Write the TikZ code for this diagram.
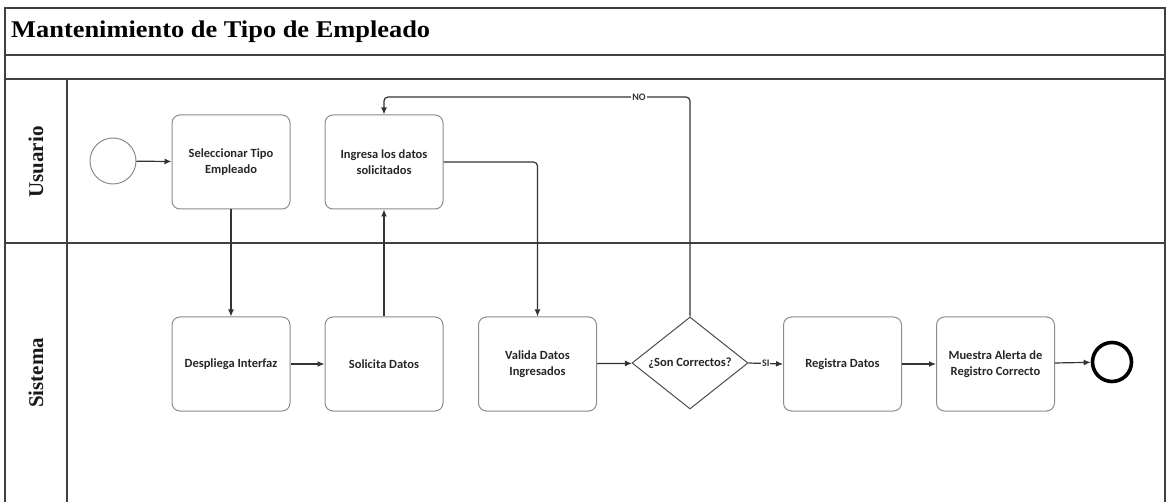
\documentclass[tikz,border=0pt]{standalone}
\usepackage{fontspec}
\setmainfont{Liberation Serif}
\newfontfamily\titlefont[FakeStretch=1.1]{Liberation Serif}
\newfontfamily\boxfont{Carlito}
\usetikzlibrary{shapes.geometric,arrows.meta}

\begin{document}
\begin{tikzpicture}[x=1pt,y=-1pt,
  frame/.style={draw=black!75, line width=1.5pt},
  task/.style={draw=black!45, line width=1pt, rounded corners=8pt,
    minimum width=118pt, minimum height=94pt, align=center, inner sep=2pt,
    text=black!85, font=\boxfont\bfseries\fontsize{12.5}{15.5}\selectfont},
  gate/.style={diamond, draw=black!70, line width=1pt, aspect=1.26,
    minimum width=116pt, minimum height=92pt, inner sep=0pt,
    text=black!85, font=\boxfont\bfseries\fontsize{12.5}{15.5}\selectfont},
  startev/.style={circle, draw=black!45, line width=1pt, minimum size=46pt, inner sep=0pt},
  endev/.style={circle, draw=black, line width=3.6pt, minimum size=39pt, inner sep=0pt},
  flow/.style={draw=black!80, line width=1.2pt, -{Latex[length=7pt,width=6pt]}},
  lbl/.style={fill=white, inner sep=1pt, text=black!80,
    font=\boxfont\bfseries\fontsize{10}{11}\selectfont},
  lane/.style={rotate=90, font=\bfseries\fontsize{21}{21}\selectfont, text=black!90}
]
\useasboundingbox (0,0) rectangle (1167,502);

% pool frame, title bar and lanes
\draw[frame] (5,502) -- (5,8) -- (1165,8) -- (1165,502);
\draw[frame] (5,55) -- (1165,55);
\draw[frame] (5,79) -- (1165,79);
\draw[frame] (5,243) -- (1165,243);
\draw[frame] (67,79) -- (67,502);

\node[anchor=west, inner sep=0pt, text=black,
  font=\titlefont\bfseries\fontsize{24}{24}\selectfont] (title) at (11,31.5)
  {Mantenimiento de Tipo de Empleado};

\node[lane] (usuario) at (36,162) {Usuario};
\node[lane] (sistema) at (36,373) {Sistema};

% events, tasks and gateway
\node[startev] (start) at (113,161) {};
\node[task] (sel) at (231,162) {Seleccionar Tipo\\Empleado};
\node[task] (ing) at (384,162) {Ingresa los datos\\solicitados};
\node[task] (desp) at (231,364) {Despliega Interfaz};
\node[task] (sol) at (384,364) {Solicita Datos};
\node[task] (val) at (537.5,364) {Valida Datos\\Ingresados};
\node[gate] (dec) at (690,363) {¿Son Correctos?};
\node[task] (reg) at (842.5,364) {Registra Datos};
\node[task] (alert) at (995.5,364) {Muestra Alerta de\\Registro Correcto};
\node[endev] (fin) at (1112,362) {};

\coordinate (back) at (690,97);

% sequence flows
\draw[flow] (start) -- (sel);
\draw[flow] (sel) -- (desp);
\draw[flow] (desp) -- (sol);
\draw[flow] (sol) -- (ing);
\draw[flow, rounded corners=4pt] (ing.east) -| (val.north);
\draw[flow] (val) -- (dec);
\draw[flow, rounded corners=4pt] (dec.north) -- (back) -| (ing.north);
\node[lbl] (no) at (639,97) {NO};
\draw[flow] (dec.east) -- node[lbl] (si) {SI} (reg.west);
\draw[flow] (reg) -- (alert);
\draw[flow] (alert) -- (fin);
\end{tikzpicture}
\end{document}
